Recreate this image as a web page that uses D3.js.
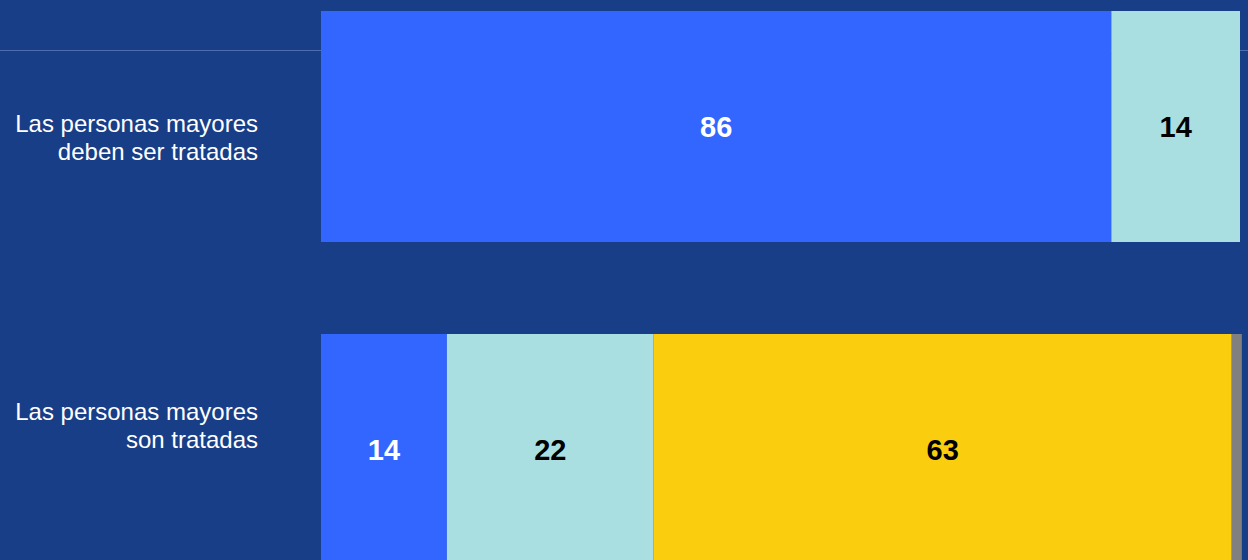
<!DOCTYPE html>
<html>
<head>
<meta charset="utf-8">
<script src="https://cdn.jsdelivr.net/npm/d3@7"></script>
<style>
  html, body { margin: 0; padding: 0; background: #173E87; }
  svg { display: block; }
</style>
</head>
<body>
<svg id="chart" width="1248" height="560"></svg>
<script>
const categories = ["Las personas mayores deben ser tratadas", "Las personas mayores son tratadas"];
const categoryLines = [["Las personas mayores", "deben ser tratadas"], ["Las personas mayores", "son tratadas"]];
const seriesNames = ["s1", "s2", "s3", "s4"];
const row1Values = [86, 14, 0, 0];
const row2Values = [13.7, 22.5, 62.9, 1.1];
const valueLabels1 = ["86", "14", "", ""];
const valueLabels2 = ["14", "22", "63", ""];
const colors = ["#3366FF", "#AADFE1", "#FACD0F", "#808080"];
const labelColors = ["#FFFFFF", "#000000", "#000000", "#000000"];

const rows = [
  { cat: categories[0], lines: categoryLines[0], values: row1Values, labels: valueLabels1, labelShift: 11 },
  { cat: categories[1], lines: categoryLines[1], values: row2Values, labels: valueLabels2, labelShift: -24 }
];

const W = 1248, H = 560;
const svg = d3.select("#chart");
svg.append("rect").attr("width", W).attr("height", H).attr("fill", "#173E87");

const x = d3.scaleLinear().domain([0, 100]).range([321, 1240]);
const y = d3.scaleBand().domain(categories).range([11, 565]).paddingInner(92 / 323).paddingOuter(0);

// horizontal rule
svg.append("line")
  .attr("x1", 0).attr("x2", W).attr("y1", 50.5).attr("y2", 50.5)
  .attr("stroke", "#4D6DAE").attr("stroke-width", 1);

rows.forEach(r => {
  let acc = 0;
  const segs = r.values.map((v, i) => {
    const s = { x0: acc, x1: acc + v, v, i, label: r.labels[i] };
    acc += v;
    return s;
  }).filter(s => s.v > 0);

  const g = svg.append("g");
  g.selectAll("rect").data(segs).join("rect")
    .attr("x", d => x(d.x0))
    .attr("width", d => x(d.x1) - x(d.x0))
    .attr("y", y(r.cat))
    .attr("height", y.bandwidth())
    .attr("fill", d => colors[d.i]);

  g.selectAll("text").data(segs.filter(d => d.label)).join("text")
    .attr("x", d => (x(d.x0) + x(d.x1)) / 2)
    .attr("y", y(r.cat) + y.bandwidth() / 2 + 10.5)
    .attr("text-anchor", "middle")
    .attr("font-family", "Liberation Sans, Arial, sans-serif")
    .attr("font-weight", "bold")
    .attr("font-size", 29)
    .attr("fill", d => labelColors[d.i])
    .text(d => d.label);

  const cy = y(r.cat) + y.bandwidth() / 2 + r.labelShift;
  const t = svg.append("text")
    .attr("text-anchor", "end")
    .attr("font-family", "Liberation Sans, Arial, sans-serif")
    .attr("font-size", 24)
    .attr("fill", "#FFFFFF");
  r.lines.forEach((ln, k) => {
    t.append("tspan").attr("x", 258).attr("y", cy - 14 + 28 * k + 8.5).text(ln);
  });
});
</script>
</body>
</html>
